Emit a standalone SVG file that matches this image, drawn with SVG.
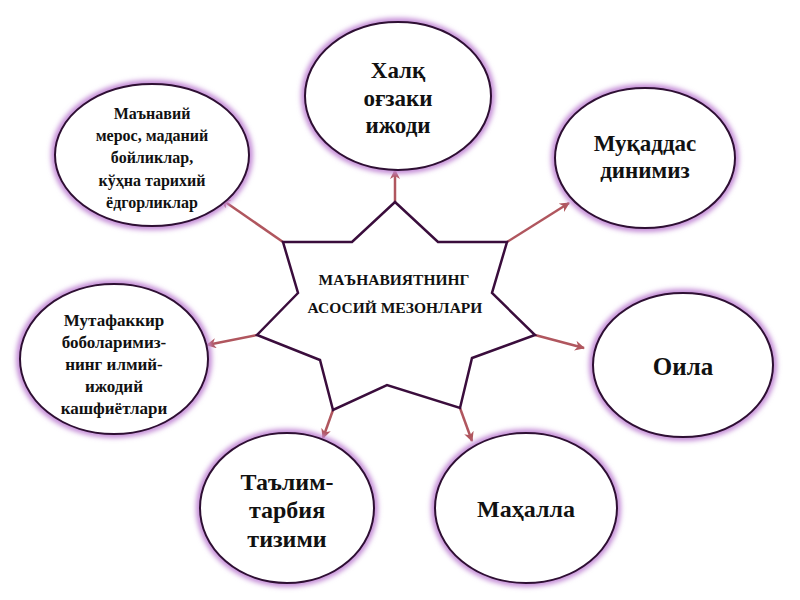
<svg xmlns="http://www.w3.org/2000/svg" width="800" height="600" viewBox="0 0 800 600">
<defs>
<filter id="glow" x="-20%" y="-20%" width="140%" height="140%">
<feGaussianBlur stdDeviation="2.5"/>
</filter>
<marker id="ah" viewBox="0 0 10 10" refX="9" refY="5" markerWidth="4" markerHeight="4" orient="auto" markerUnits="strokeWidth">
<path d="M0,0 L10,5 L0,10 L3,5 Z" fill="#b0565e"/>
</marker>
<style>
.halo{fill:none;stroke:#c38ad6;stroke-width:8;filter:url(#glow)}
.node{fill:#ffffff;stroke:#2e0f33;stroke-width:2}
.t{font-family:"Liberation Serif","Times New Roman",serif;font-weight:bold;fill:#111;text-anchor:middle}
.conn{stroke:#b0565e;stroke-width:2.5;fill:none;marker-end:url(#ah)}
</style>
</defs>
<rect width="800" height="600" fill="#ffffff"/>
<g id="connectors">
<line class="conn" x1="395" y1="202" x2="395" y2="170"/>
<line class="conn" x1="507" y1="242" x2="569" y2="203"/>
<line class="conn" x1="535" y1="335" x2="584" y2="348"/>
<line class="conn" x1="460" y1="408" x2="472" y2="441"/>
<line class="conn" x1="333" y1="410" x2="323" y2="438"/>
<line class="conn" x1="257" y1="335" x2="207" y2="345"/>
<line class="conn" x1="283" y1="242" x2="221" y2="199"/>
</g>
<g id="center">
<polygon points="395,202 438,242 507,242 492,293 535,335 472,358 460,408 387,385 333,410 320,360 257,335 298,293 283,242 352,242" fill="#ffffff" stroke="#3a0d3c" stroke-width="2.5" stroke-linejoin="miter"/>
<text class="t" x="394" y="285" font-size="15.5">МАЪНАВИЯТНИНГ</text>
<text class="t" x="395" y="313" font-size="15.5">АСОСИЙ МЕЗОНЛАРИ</text>
</g>
<g id="node-top">
<ellipse class="halo" cx="398" cy="96" rx="93" ry="74"/>
<ellipse class="node" cx="398" cy="96" rx="93" ry="74"/>
<text class="t" x="398" y="78" font-size="23">Халқ</text>
<text class="t" x="398" y="106" font-size="23">оғзаки</text>
<text class="t" x="398" y="133" font-size="23">ижоди</text>
</g>
<g id="node-upper-right">
<ellipse class="halo" cx="645" cy="158" rx="90" ry="70"/>
<ellipse class="node" cx="645" cy="158" rx="90" ry="70"/>
<text class="t" x="645" y="151" font-size="23">Муқаддас</text>
<text class="t" x="645" y="178" font-size="23">динимиз</text>
</g>
<g id="node-right">
<ellipse class="halo" cx="683" cy="365" rx="90" ry="72"/>
<ellipse class="node" cx="683" cy="365" rx="90" ry="72"/>
<text class="t" x="683" y="375" font-size="25">Оила</text>
</g>
<g id="node-bottom-right">
<ellipse class="halo" cx="526" cy="508" rx="91" ry="75"/>
<ellipse class="node" cx="526" cy="508" rx="91" ry="75"/>
<text class="t" x="526" y="517" font-size="24">Маҳалла</text>
</g>
<g id="node-bottom-left">
<ellipse class="halo" cx="287" cy="508" rx="87" ry="75"/>
<ellipse class="node" cx="287" cy="508" rx="87" ry="75"/>
<text class="t" x="287" y="490" font-size="24">Таълим-</text>
<text class="t" x="287" y="518" font-size="24">тарбия</text>
<text class="t" x="287" y="547" font-size="24">тизими</text>
</g>
<g id="node-left">
<ellipse class="halo" cx="114" cy="359" rx="94" ry="75"/>
<ellipse class="node" cx="114" cy="359" rx="94" ry="75"/>
<text class="t" x="114" y="326" font-size="17">Мутафаккир</text>
<text class="t" x="114" y="348" font-size="17">боболаримиз-</text>
<text class="t" x="114" y="370" font-size="17">нинг илмий-</text>
<text class="t" x="114" y="392" font-size="17">ижодий</text>
<text class="t" x="114" y="414" font-size="17">кашфиётлари</text>
</g>
<g id="node-upper-left">
<ellipse class="halo" cx="152" cy="155" rx="97" ry="71"/>
<ellipse class="node" cx="152" cy="155" rx="97" ry="71"/>
<text class="t" x="152" y="119" font-size="16">Маънавий</text>
<text class="t" x="152" y="141" font-size="16">мерос, маданий</text>
<text class="t" x="152" y="163" font-size="16">бойликлар,</text>
<text class="t" x="152" y="186" font-size="16">кўҳна тарихий</text>
<text class="t" x="152" y="208" font-size="16">ёдгорликлар</text>
</g>
</svg>
